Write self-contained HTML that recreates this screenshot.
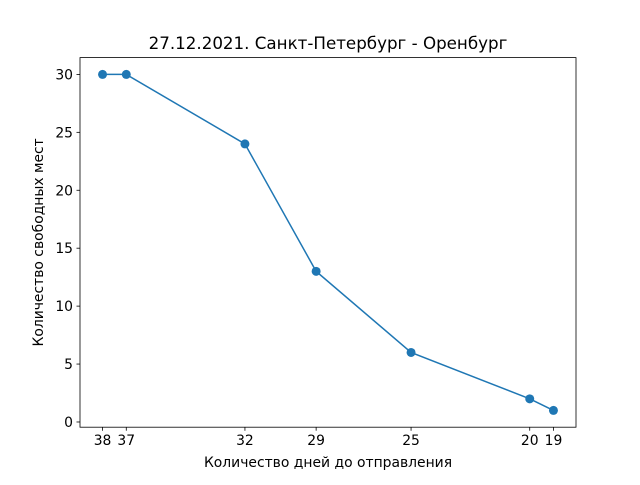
<!DOCTYPE html>
<html><head><meta charset="utf-8"><style>
body{margin:0;background:#fff;}
svg text{font-family:"DejaVu Sans","Liberation Sans",sans-serif;fill:#000;}
</style></head><body>
<svg width="640" height="480" viewBox="0 0 640 480">
<rect width="640" height="480" fill="#fff"/>
<text x="328" y="49" font-size="16.7" text-anchor="middle">27.12.2021. Санкт-Петербург - Оренбург</text>
<g id="axes"></g>
<text x="328" y="467" font-size="13.9" text-anchor="middle">Количество дней до отправления</text>
<text transform="translate(43,242.4) rotate(-90)" font-size="13.9" text-anchor="middle">Количество свободных мест</text>
</svg>
<script>
const days = [38, 37, 32, 29, 25, 20, 19];
const seats = [30, 30, 24, 13, 6, 2, 1];
const yTicks = [0, 5, 10, 15, 20, 25, 30];

const L=80,R=576,T=57.6,B=427.2;
const xmin=Math.min(...days),xmax=Math.max(...days),xm=(xmax-xmin)*0.05;
const ymin=Math.min(...seats),ymax=Math.max(...seats),ym=(ymax-ymin)*0.05;
const x0=xmax+xm,x1=xmin-xm,y0=ymin-ym,y1=ymax+ym;
const X=v=>L+(x0-v)/(x0-x1)*(R-L);
const Y=v=>B-(v-y0)/(y1-y0)*(B-T);
const NS='http://www.w3.org/2000/svg';
const g=document.getElementById('axes');
function mk(t,a){const e=document.createElementNS(NS,t);for(const k in a)e.setAttribute(k,a[k]);g.appendChild(e);return e;}

days.forEach(d=>{
  const t=mk('line',{x1:X(d),x2:X(d),y1:B,y2:B+3.5,stroke:'#000','stroke-width':0.8});
  
  
  const l=mk('text',{x:X(d),y:B+18,'font-size':13.9,'text-anchor':'middle'});
  l.textContent=d;
  
  
});
yTicks.forEach(v=>{
  const t=mk('line',{x1:L-3.5,x2:L,y1:Y(v),y2:Y(v),stroke:'#000','stroke-width':0.8});
  
  
  const l=mk('text',{x:L-7,y:Y(v)+5,'font-size':13.9,'text-anchor':'end'});
  l.textContent=v;
  
  
});
const line=mk('polyline',{points:days.map((d,i)=>X(d)+','+Y(seats[i])).join(' '),fill:'none',stroke:'#1f77b4','stroke-width':1.5});


days.forEach((d,i)=>{
  const c=mk('circle',{cx:X(d),cy:Y(seats[i]),r:4.5,fill:'#1f77b4'});
  
  
});
const f=mk('rect',{x:L,y:T,width:R-L,height:B-T,fill:'none',stroke:'#000','stroke-width':0.8});


</script>
</body></html>
